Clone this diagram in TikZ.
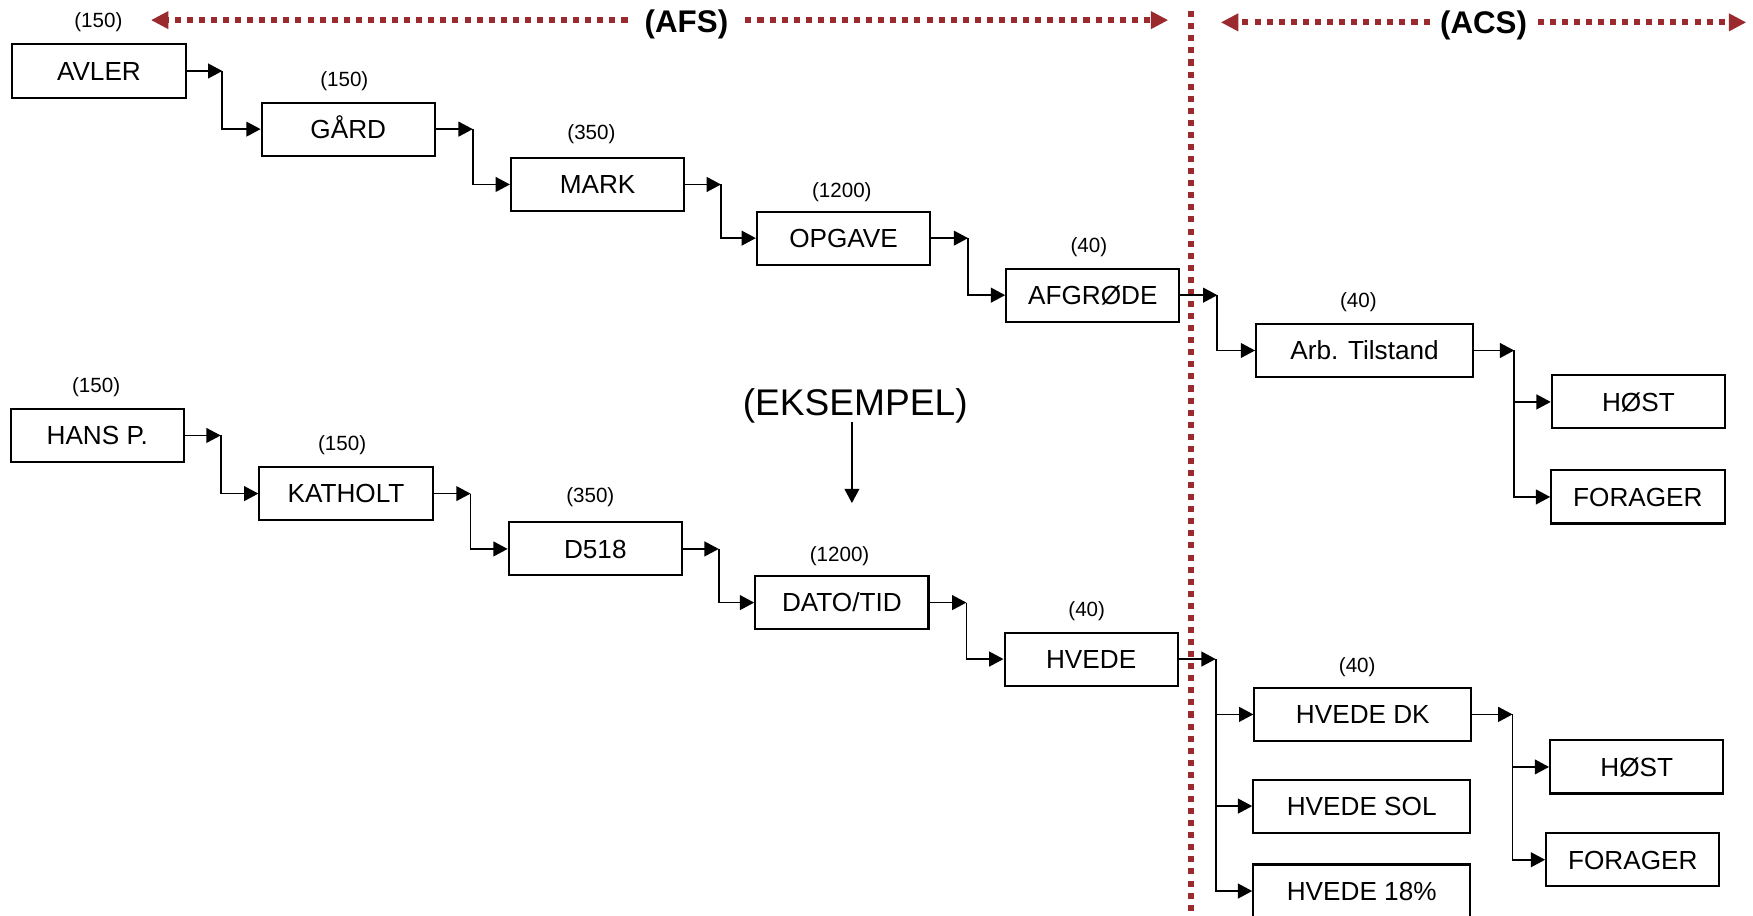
\documentclass[tikz,border=0pt]{standalone}
\usepackage{fontspec}
\setmainfont{Liberation Sans}
\usetikzlibrary{arrows.meta}
\definecolor{afsred}{HTML}{9B2A2E}
\begin{document}
\begin{tikzpicture}[x=0.5pt,y=-0.5pt,
  box/.style={draw,line width=0.9pt,inner sep=0pt,minimum height=23.75pt,text height=8.4pt,text depth=0pt,font=\fontsize{11.7}{14}\selectfont},
  wbox/.style={box,minimum width=77.5pt},
  bbox/.style={box,minimum width=97pt},
  num/.style={inner sep=0pt,text depth=0pt,font=\fontsize{9.2}{11}\selectfont},
  conn/.style={line width=0.8pt,-{Triangle[length=6.4pt,width=6.6pt]}},
  reddot/.style={afsred,line width=2.7pt,dash pattern=on 2.7pt off 2.7pt},
  redhead/.style={-{Triangle[length=7.8pt,width=7.5pt]}},
  head/.style={inner ysep=0pt,text depth=0pt,font=\fontsize{14}{16}\selectfont\bfseries}]
\useasboundingbox (0,0) rectangle (1568,819);
\clip (0,0) rectangle (1568,819);

% red separators
\node[head,inner xsep=7.5pt] (afs) at (614,19) {(AFS)};
\node[head,inner xsep=4.5pt] (acs) at (1327,20) {(ACS)};
\coordinate (afsL) at (135,18);
\coordinate (afsR) at (1045,18);
\coordinate (acsL) at (1092,20);
\coordinate (acsR) at (1562,20);
\coordinate (vtop) at (1065,10);
\coordinate (vbot) at (1065,822);
\draw[reddot,redhead] (afs.west |- afsL) -- (afsL);
\draw[reddot,redhead] (afs.east |- afsR) -- (afsR);
\draw[reddot,redhead] (acs.west |- acsL) -- (acsL);
\draw[reddot,redhead] (acs.east |- acsR) -- (acsR);
\draw[reddot] (vtop) -- (vbot);

% top chain
\node[wbox] (avler) at (88.5,63.5) {AVLER};
\node[wbox] (gard) at (311.5,115.5) {GÅRD};
\node[wbox] (mark) at (534.5,165) {MARK};
\node[wbox] (opgave) at (754.5,213) {OPGAVE};
\node[wbox] (afgrode) at (977.5,264) {AFGRØDE};
\node[bbox] (arb) at (1220.5,313.5) {Arb. Tilstand};
\node[wbox] (host1) at (1465.5,359.5) {HØST};
\node[wbox] (forager1) at (1465,444.5) {FORAGER};

\node[num] (n1) at (88,18) {(150)};
\node[num] (n2) at (308,71) {(150)};
\node[num] (n3) at (529,118) {(350)};
\node[num] (n4) at (753,170) {(1200)};
\node[num] (n5) at (974,219) {(40)};
\node[num] (n6) at (1215,268) {(40)};

% bottom chain
\node[wbox] (hans) at (87,389.5) {HANS P.};
\node[wbox] (katholt) at (309.5,441.5) {KATHOLT};
\node[wbox] (d518) at (532.5,491) {D518};
\node[wbox] (dato) at (753,539) {DATO/TID};
\node[wbox] (hvede) at (976,589.5) {HVEDE};
\node[bbox] (hvededk) at (1219,639) {HVEDE DK};
\node[bbox] (hvedesol) at (1218,721) {HVEDE SOL};
\node[bbox] (hvede18) at (1218,797) {HVEDE 18\%};
\node[wbox] (host2) at (1464,686) {HØST};
\node[wbox] (forager2) at (1460.5,769) {FORAGER};

\node[num] (m1) at (86,344) {(150)};
\node[num] (m2) at (306,396) {(150)};
\node[num] (m3) at (528,443) {(350)};
\node[num] (m4) at (751,496) {(1200)};
\node[num] (m5) at (972,545) {(40)};
\node[num] (m6) at (1214,595) {(40)};

% example
\node[inner sep=0pt,text depth=0pt,font=\fontsize{16.6}{19}\selectfont] (eks) at (765,360) {(EKSEMPEL)};
\coordinate (eksend) at (762,450);
\draw[conn] (eks.south -| eksend) ++(0,5) -- (eksend);

% connectors top
\draw[conn] (avler.east) -- ++(32,0) coordinate (t1);
\draw[conn] (t1) |- (gard.west);
\draw[conn] (gard.east) -- ++(33,0) coordinate (t2);
\draw[conn] (t2) |- (mark.west);
\draw[conn] (mark.east) -- ++(32,0) coordinate (t3);
\draw[conn] (t3) |- (opgave.west);
\draw[conn] (opgave.east) -- ++(33,0) coordinate (t4);
\draw[conn] (t4) |- (afgrode.west);
\draw[conn] (afgrode.east) -- ++(33,0) coordinate (t5);
\draw[conn] (t5) |- (arb.west);
\draw[conn] (arb.east) -- ++(36,0) coordinate (t6);
\draw[conn] (t6) |- (host1.west);
\draw[conn] (t6) |- (forager1.west);

% connectors bottom
\draw[conn] (hans.east) -- ++(32,0) coordinate (u1);
\draw[conn] (u1) |- (katholt.west);
\draw[conn] (katholt.east) -- ++(33,0) coordinate (u2);
\draw[conn] (u2) |- (d518.west);
\draw[conn] (d518.east) -- ++(32,0) coordinate (u3);
\draw[conn] (u3) |- (dato.west);
\draw[conn] (dato.east) -- ++(33,0) coordinate (u4);
\draw[conn] (u4) |- (hvede.west);
\draw[conn] (hvede.east) -- ++(33,0) coordinate (u5);
\draw[conn] (u5) |- (hvededk.west);
\draw[conn] (u5) |- (hvedesol.west);
\draw[conn] (u5) |- (hvede18.west);
\draw[conn] (hvededk.east) -- ++(36,0) coordinate (u6);
\draw[conn] (u6) |- (host2.west);
\draw[conn] (u6) |- (forager2.west);
\end{tikzpicture}
\end{document}
